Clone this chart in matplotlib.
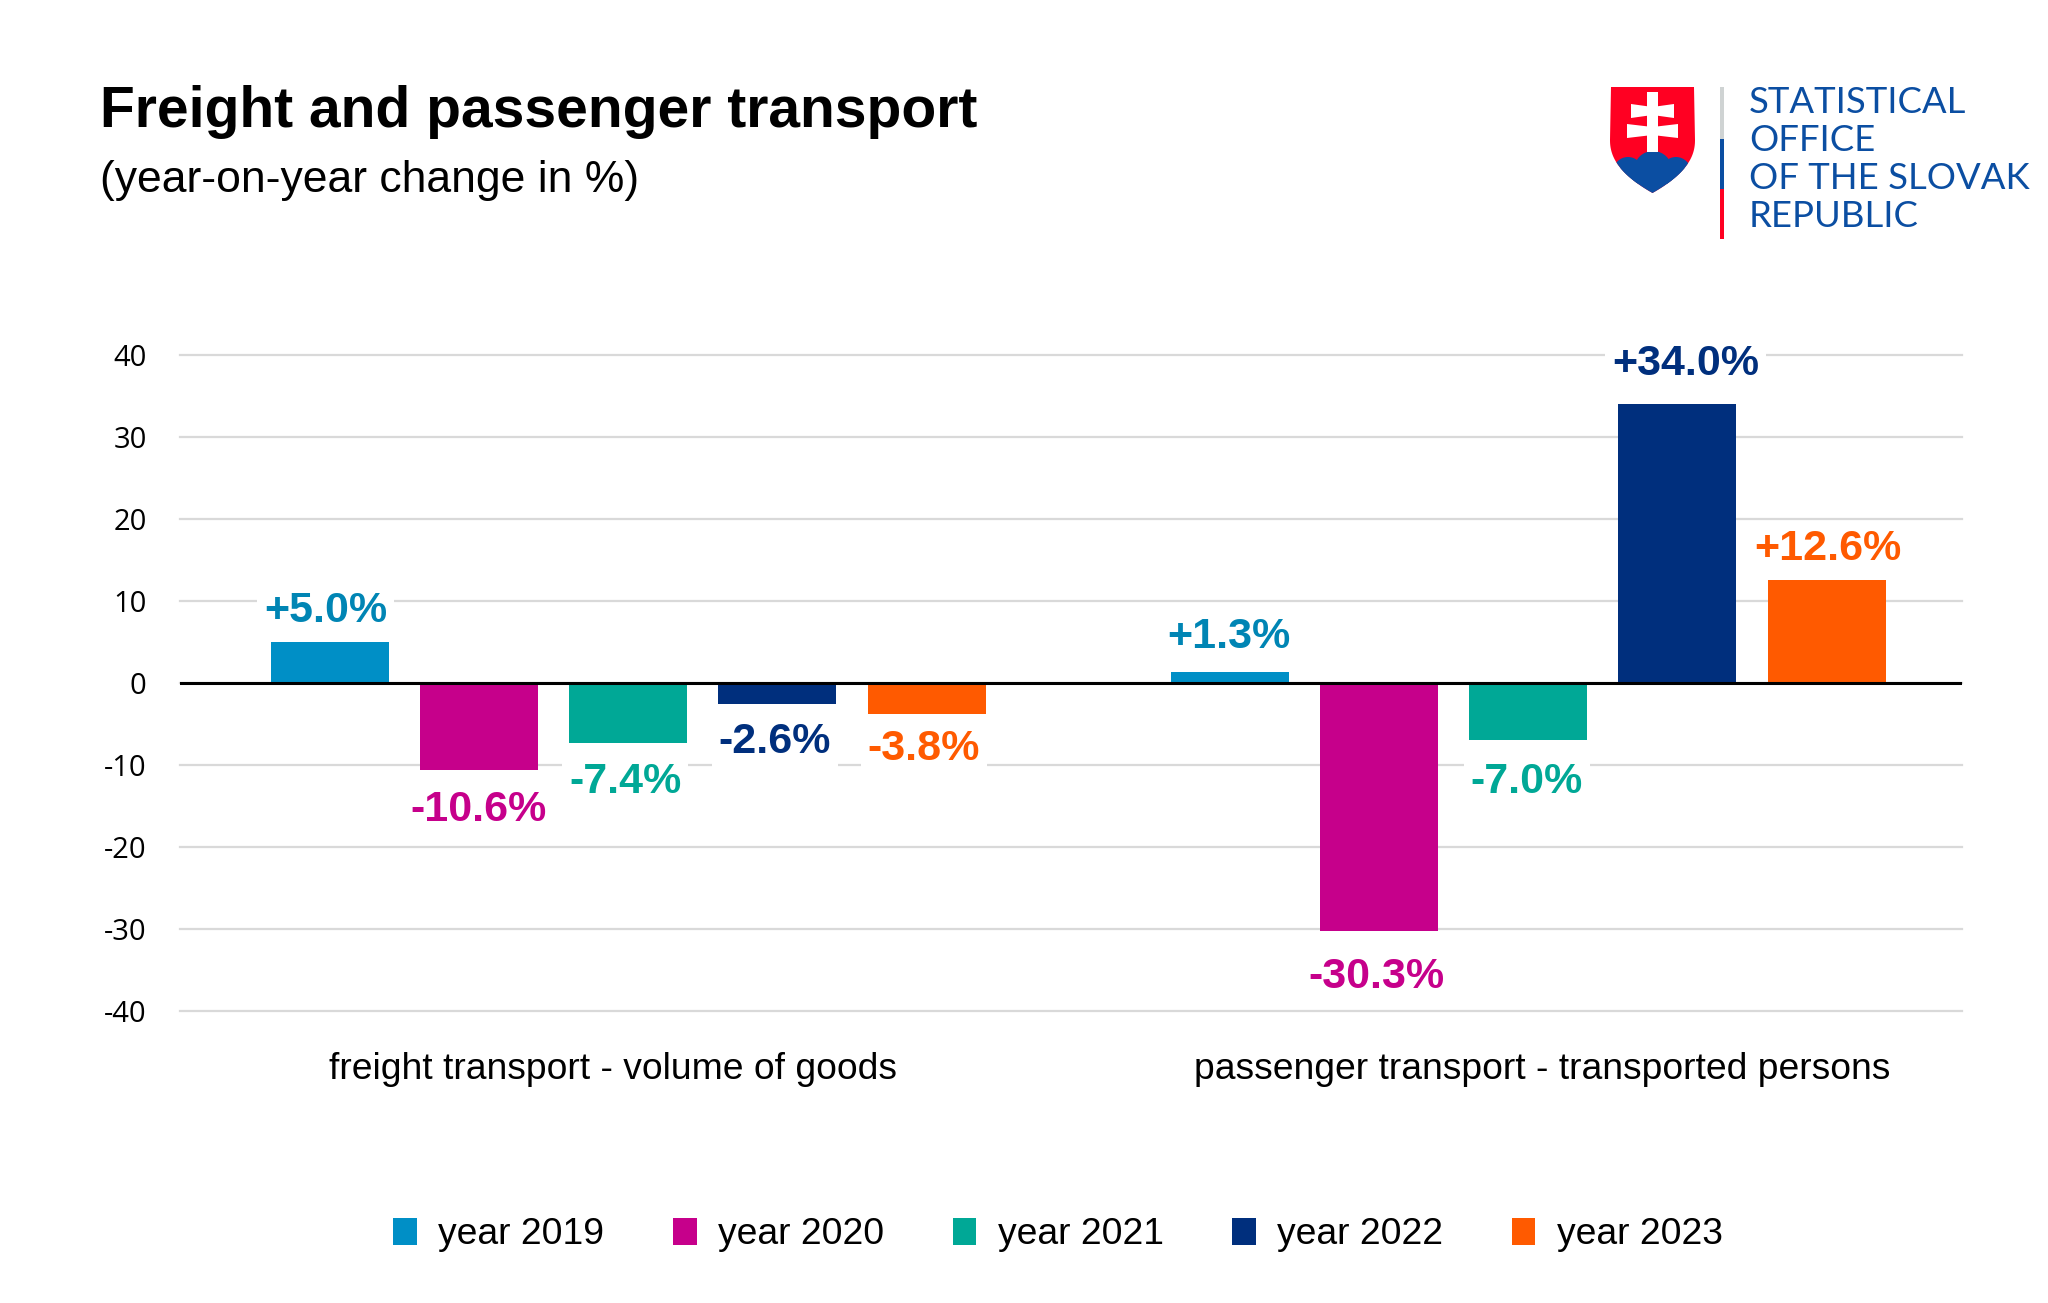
import matplotlib
matplotlib.use("Agg")
import matplotlib.pyplot as plt
import numpy as np
from matplotlib.patches import Polygon, Circle, Rectangle

categories = ["freight transport - volume of goods", "passenger transport - transported persons"]
years = ["year 2019", "year 2020", "year 2021", "year 2022", "year 2023"]
values_2019 = [5.0, 1.3]
values_2020 = [-10.6, -30.3]
values_2021 = [-7.4, -7.0]
values_2022 = [-2.6, 34.0]
values_2023 = [-3.8, 12.6]
yticks = [-40, -30, -20, -10, 0, 10, 20, 30, 40]

colors = ["#008FC6", "#C6008B", "#00A896", "#002F7D", "#FF5A00"]
label_colors = ["#0085B4", "#C6008B", "#00A896", "#002F7D", "#FF5A00"]
series = [values_2019, values_2020, values_2021, values_2022, values_2023]

# manual nudges of the value labels, in points
label_dx = [[-3, -1], [0, -2], [-2, -1], [-2, 6], [-2, 1]]
label_dy = [[22, 25], [-29, -33], [-28, -30], [-27, 29], [-25, 22]]

W, H = 2048, 1303
fig = plt.figure(figsize=(W / 100, H / 100), dpi=100)
ax = fig.add_axes([180 / W, 1 - 1010.5 / H, (1962 - 180) / W, (1010.5 - 355) / H])

bar_w = 118 / 900
step = 149.2 / 900
x = np.arange(len(categories))
for i, vals in enumerate(series):
    bars = ax.bar(x + (i - 2) * step, vals, bar_w, color=colors[i], label=years[i], zorder=3)
    for j, (b, v) in enumerate(zip(bars, vals)):
        sign = "+" if v > 0 else ""
        ax.annotate(f"{sign}{v:.1f}%", (b.get_x() + b.get_width() / 2, v),
                    xytext=(label_dx[i][j], label_dy[i][j]), textcoords="offset points",
                    ha="center", va="center", fontsize=31, fontweight="bold",
                    family="Liberation Sans", color=label_colors[i], zorder=4,
                    bbox=dict(facecolor="white", edgecolor="none", pad=5))

ax.set_xlim(-0.498, 1.482)
ax.set_ylim(-40, 40)
ax.set_yticks(yticks)
ax.set_yticklabels([str(t) for t in yticks], family="Open Sans", fontsize=21)
# the category labels sit a little off the bar groups in the source
ax.set_xticks([-0.017, 1.016])
ax.set_xticklabels(categories, family="Liberation Sans", fontsize=26.8)
ax.tick_params(axis="both", length=0)
ax.tick_params(axis="y", pad=24)
ax.tick_params(axis="x", pad=30)
ax.grid(axis="y", color="#D9D9D9", linewidth=1.6, zorder=0)
ax.grid(axis="x", visible=False)
# top and bottom lines sit on the axes edge and get cut otherwise
for line in ax.get_ygridlines():
    line.set_clip_on(False)
ax.set_axisbelow(True)
for s in ax.spines.values():
    s.set_visible(False)
ax.axhline(0, color="black", linewidth=2.2, zorder=5)

leg = fig.legend(loc="center", bbox_to_anchor=(1058 / W, 1 - 1235 / H), ncol=5, frameon=False,
                 prop={"family": "Liberation Sans", "size": 26.8},
                 handlelength=0.64, handleheight=0.72, handletextpad=0.57, columnspacing=1.84)

fig.text(100 / W, 1 - 127 / H, "Freight and passenger transport", family="Liberation Sans",
         fontweight="bold", fontsize=41, color="black", va="baseline")
fig.text(100 / W, 1 - 192 / H, "(year-on-year change in %)", family="Liberation Sans",
         fontsize=32, color="black", va="baseline")

# logo, drawn in pixel coordinates of the figure
logo = fig.add_axes([0, 0, 1, 1], facecolor="none")
logo.set_xlim(0, W)
logo.set_ylim(H, 0)
logo.axis("off")
red = "#FF0022"
blue = "#0B4EA2"
t = np.linspace(0, 1, 30)
edge_l = [(1610 + 42.5 * a ** 2.2, 140 + 53 * a) for a in t]
edge_r = [(1695 - 42.5 * a ** 2.2, 140 + 53 * a) for a in t[::-1]]
shield = [(1611, 87)] + edge_l + edge_r + [(1694, 87)]
sh = Polygon(shield, closed=True, facecolor=red, edgecolor="none", zorder=1)
logo.add_patch(sh)
for cx, cy, r in [(1628, 172, 15), (1653, 170, 19), (1676, 172, 15)]:
    c = Circle((cx, cy), r, facecolor=blue, edgecolor="none", zorder=2)
    logo.add_patch(c)
    c.set_clip_path(sh)
low = Rectangle((1605, 168), 95, 30, facecolor=blue, edgecolor="none", zorder=2)
logo.add_patch(low)
low.set_clip_path(sh)
cx = 1652.5
logo.add_patch(Rectangle((cx - 5.5, 92), 11, 60, facecolor="white", edgecolor="none", zorder=3))
logo.add_patch(Polygon([(cx - 21.5, 104), (cx, 107), (cx + 21.5, 104), (cx + 21.5, 118), (cx, 115), (cx - 21.5, 118)],
                       facecolor="white", edgecolor="none", zorder=3))
logo.add_patch(Polygon([(cx - 25.5, 124), (cx, 127), (cx + 25.5, 124), (cx + 25.5, 138), (cx, 135), (cx - 25.5, 138)],
                       facecolor="white", edgecolor="none", zorder=3))
logo.add_patch(Rectangle((1720, 87), 4, 52, facecolor="#CFD3D3", edgecolor="none"))
logo.add_patch(Rectangle((1720, 139), 4, 50, facecolor=blue, edgecolor="none"))
logo.add_patch(Rectangle((1720, 189), 4, 50, facecolor=red, edgecolor="none"))
for line, y in zip(["STATISTICAL", "OFFICE", "OF THE SLOVAK", "REPUBLIC"], [113, 151, 189, 227]):
    logo.text(1749, y, line, family="Lato", fontsize=26.3, color=blue, va="baseline")

fig.savefig("out.png", dpi=100)
